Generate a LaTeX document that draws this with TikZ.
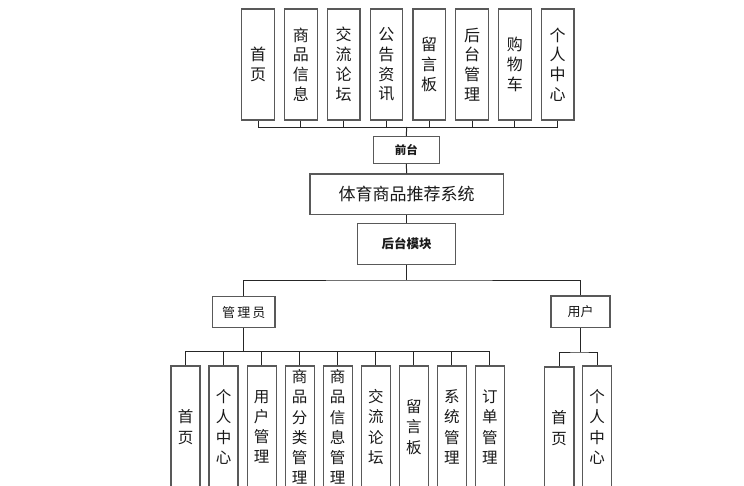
\documentclass[tikz,border=0pt]{standalone}
\usepackage{fontspec}
\newfontfamily\cjk{Noto Sans CJK SC}
\begin{document}
\begin{tikzpicture}[x=1pt,y=-1pt,
  box/.style={draw=black!65,line width=1.2pt,fill=white,inner sep=0pt,align=center,text=black!90},
  vtop/.style={box,minimum width=32.6pt,minimum height=111pt,font=\cjk\fontsize{16}{19.8}\selectfont},
  vbot/.style={box,minimum width=29pt,minimum height=122pt,font=\cjk\fontsize{15.5}{20.2}\selectfont},
  hbox/.style={box},
  link/.style={draw=black!85,line width=1pt}]
\useasboundingbox (0,0) rectangle (744,485);
\clip (0,0) rectangle (744,485);
\fill[white] (0,0) rectangle (744,485);
% top row
\foreach \t [count=\i] in {首\\页,商\\品\\信\\息,交\\流\\论\\坛,公\\告\\资\\讯,留\\言\\板,后\\台\\管\\理,购\\物\\车,个\\人\\中\\心}
  \node[vtop] (t\i) at ({258+42.8*(\i-1)},64.5) {\t};
\node[hbox,minimum width=66pt,minimum height=26.6pt,font=\cjk\bfseries\fontsize{11.5}{13}\selectfont] (qt) at (406.3,150) {前台};
\node[hbox,minimum width=193.3pt,minimum height=40.3pt,font=\cjk\fontsize{17}{19}\selectfont] (sys) at (406.7,194.2) {体育商品推荐系统};
\node[hbox,minimum width=98pt,minimum height=41pt,font=\cjk\bfseries\fontsize{12.5}{14}\selectfont] (ht) at (406.7,243.8) {后台模块};
\node[hbox,minimum width=62.3pt,minimum height=31pt,font=\cjk\fontsize{13}{15}\selectfont] (adm) at (243.8,312.2) {管\,理\,员};
\node[hbox,minimum width=59pt,minimum height=31.7pt,font=\cjk\fontsize{13}{15}\selectfont] (usr) at (580.5,311.8) {用户};
% admin row
\foreach \t [count=\i] in {首\\页,个\\人\\中\\心,用\\户\\管\\理,商\\品\\分\\类\\管\\理,商\\品\\信\\息\\管\\理,交\\流\\论\\坛,留\\言\\板,系\\统\\管\\理,订\\单\\管\\理}
  \node[vbot] (a\i) at ({185.5+38.06*(\i-1)},427) {\t};
% user row
\node[vbot,minimum width=29.6pt] (u1) at (559.2,428) {首\\页};
\node[vbot,minimum width=29.6pt] (u2) at (597,427) {个\\人\\中\\心};
% connectors top
\coordinate (tbus) at (406.7,127);
\foreach \i in {1,...,8} \draw[link] (t\i.south) -- (t\i.south |- tbus);
\draw[link] (t1.south |- tbus) -- (t8.south |- tbus);
\draw[link] (tbus) -- (qt.north);
\draw[link] (qt.south) -- (sys.north);
\draw[link] (sys.south) -- (ht.north);
\coordinate (mbus) at (406.7,280);
\draw[link] (ht.south) -- (mbus);
\draw[link] (adm.north) |- (mbus) -| (usr.north);
\coordinate (abus) at (243.8,351);
\draw[link] (adm.south) -- (abus);
\foreach \i in {1,...,9} \draw[link] (a\i.north) -- (a\i.north |- abus);
\draw[link] (a1.north |- abus) -- (a9.north |- abus);
\coordinate (ubus) at (580.5,352);
\draw[link] (usr.south) -- (ubus);
\draw[link] (u1.north) |- (ubus) -| (u2.north);
\end{tikzpicture}
\end{document}
